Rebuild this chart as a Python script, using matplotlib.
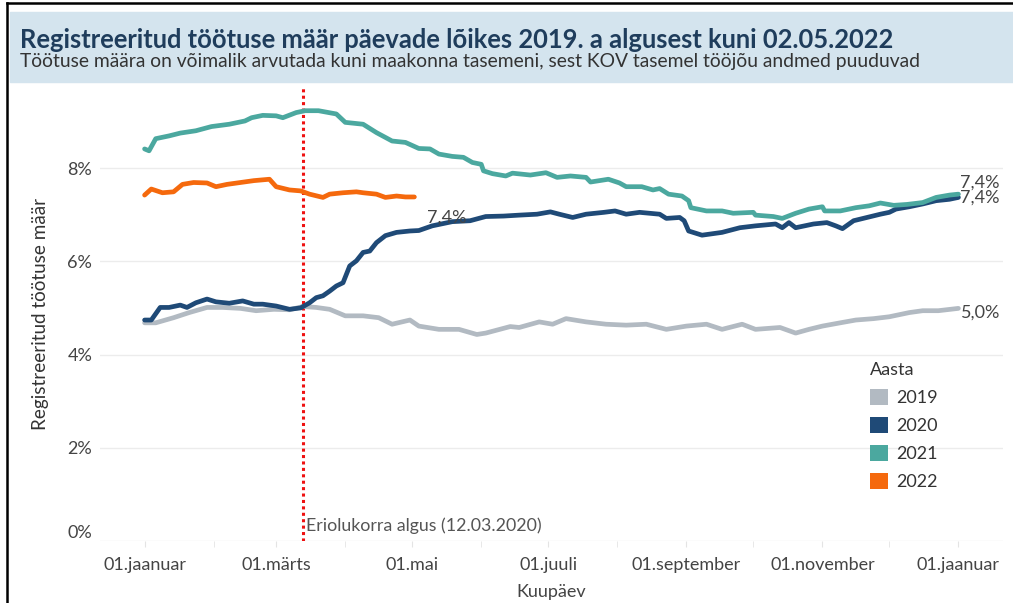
import matplotlib
matplotlib.use("Agg")
import matplotlib.pyplot as plt
from matplotlib.patches import Rectangle, Patch
from matplotlib.lines import Line2D

plt.rcParams['font.family'] = ['Lato', 'DejaVu Sans']

# päev aasta algusest (0 = 01.jaanuar) ja registreeritud töötuse määr, %
days_2019 = [0, 5, 13, 20, 28, 35, 43, 50, 58, 65, 71, 77, 83, 90, 98, 105, 111, 119, 123,
             132, 141, 149, 153, 164, 168, 177, 183, 189, 198, 207, 216, 225, 234, 243, 252,
             259, 268, 274, 285, 292, 298, 304, 312, 319, 327, 334, 343, 349, 356, 365]
rate_2019 = [4.68, 4.68, 4.79, 4.90, 5.01, 5.01, 4.99, 4.94, 4.97, 4.96, 5.03, 5.01, 4.97,
             4.83, 4.83, 4.79, 4.65, 4.74, 4.61, 4.54, 4.54, 4.43, 4.46, 4.60, 4.58, 4.70,
             4.65, 4.77, 4.70, 4.65, 4.63, 4.65, 4.54, 4.61, 4.65, 4.54, 4.65, 4.54, 4.58,
             4.46, 4.54, 4.61, 4.68, 4.74, 4.77, 4.81, 4.90, 4.94, 4.94, 4.99]

days_2020 = [0, 3, 7, 11, 16, 19, 23, 28, 32, 38, 44, 49, 53, 59, 65, 70, 74, 77, 80, 83,
             86, 89, 92, 95, 98, 101, 104, 108, 113, 119, 123, 129, 138, 146, 153, 161, 168,
             176, 182, 186, 192, 198, 206, 211, 216, 222, 231, 234, 240, 242, 244, 250, 259,
             267, 274, 283, 286, 289, 292, 300, 306, 310, 313, 318, 324, 330, 334, 337, 343,
             349, 355, 361, 365]
rate_2020 = [4.74, 4.74, 5.01, 5.01, 5.06, 5.01, 5.11, 5.19, 5.13, 5.10, 5.15, 5.08, 5.08,
             5.04, 4.97, 5.00, 5.11, 5.22, 5.26, 5.36, 5.47, 5.54, 5.90, 6.01, 6.19, 6.22,
             6.40, 6.55, 6.62, 6.65, 6.66, 6.76, 6.85, 6.87, 6.96, 6.97, 6.99, 7.01, 7.06,
             7.01, 6.94, 7.01, 7.05, 7.08, 7.01, 7.05, 7.01, 6.92, 6.94, 6.87, 6.65, 6.56,
             6.62, 6.72, 6.76, 6.80, 6.72, 6.83, 6.72, 6.80, 6.83, 6.76, 6.70, 6.87, 6.94,
             7.01, 7.05, 7.12, 7.17, 7.23, 7.30, 7.33, 7.37]

days_2021 = [0, 2, 5, 8, 11, 16, 23, 30, 38, 45, 48, 53, 59, 62, 68, 72, 78, 86, 90, 98,
             104, 111, 117, 123, 128, 132, 138, 143, 147, 151, 152, 156, 162, 165, 173, 180,
             185, 191, 198, 200, 208, 213, 216, 223, 228, 231, 235, 241, 244, 245, 252, 259,
             264, 273, 274, 282, 286, 292, 298, 304, 305, 312, 319, 325, 330, 336, 342, 349,
             355, 361, 365]
rate_2021 = [8.41, 8.37, 8.63, 8.66, 8.69, 8.75, 8.80, 8.89, 8.94, 9.01, 9.08, 9.13, 9.12,
             9.08, 9.19, 9.23, 9.23, 9.16, 8.98, 8.94, 8.76, 8.58, 8.55, 8.42, 8.41, 8.30,
             8.25, 8.23, 8.12, 8.08, 7.94, 7.88, 7.83, 7.89, 7.85, 7.90, 7.80, 7.83, 7.80,
             7.70, 7.76, 7.68, 7.60, 7.60, 7.53, 7.56, 7.44, 7.40, 7.30, 7.15, 7.08, 7.08,
             7.03, 7.05, 6.99, 6.96, 6.92, 7.03, 7.12, 7.17, 7.08, 7.08, 7.15, 7.19, 7.25,
             7.20, 7.22, 7.26, 7.37, 7.42, 7.44]

days_2022 = [0, 3, 8, 13, 17, 22, 28, 32, 37, 43, 49, 56, 59, 65, 70, 74, 80, 83, 89, 95,
             98, 104, 108, 113, 117, 121]
rate_2022 = [7.42, 7.55, 7.47, 7.49, 7.65, 7.69, 7.68, 7.60, 7.65, 7.69, 7.73, 7.76, 7.60,
             7.53, 7.51, 7.44, 7.37, 7.44, 7.47, 7.49, 7.47, 7.44, 7.37, 7.40, 7.38, 7.38]

years = ['2019', '2020', '2021', '2022']
colors = ['#b2bac2', '#1f4a77', '#4ba89f', '#f5690d']

tick_days = [0, 59, 120, 181, 243, 304, 365]
tick_labels = ['01.jaanuar', '01.märts', '01.mai', '01.juuli', '01.september',
               '01.november', '01.jaanuar']
month_days = [0, 31, 59, 90, 120, 151, 181, 212, 243, 273, 304, 334, 365]

emergency_day = 71   # 12.03.2020

fig = plt.figure(figsize=(10.13, 6.03), dpi=100)
W, H = 1013, 603

# päise taust ja raam
fig.patches.append(Rectangle((10 / W, 1 - 82 / H), 1 - 10 / W, 70 / H,
                             transform=fig.transFigure, color='#d4e4ee', zorder=0))
fig.lines.append(Line2D([7 / W, 7 / W], [0, 1 - 3 / H], transform=fig.transFigure,
                        color='black', lw=1.8))
fig.lines.append(Line2D([7 / W, 1], [1 - 3 / H, 1 - 3 / H], transform=fig.transFigure,
                        color='black', lw=1.8))

fig.text(20 / W, 1 - 48 / H, 'Registreeritud töötuse määr päevade lõikes 2019. a algusest kuni 02.05.2022',
         fontsize=18.4, fontweight='bold', color='#1f3d5c', va='baseline')
fig.text(20 / W, 1 - 67 / H, 'Töötuse määra on võimalik arvutada kuni maakonna tasemeni, sest KOV tasemel tööjõu andmed puuduvad',
         fontsize=13.85, color='#333333', va='baseline')

ax = fig.add_axes([100 / W, 1 - 541 / H, 903 / W, 455 / H])

series = [(days_2019, rate_2019), (days_2020, rate_2020),
          (days_2021, rate_2021), (days_2022, rate_2022)]
for (d, r), c in zip(series, colors):
    ax.plot(d, r, color=c, lw=3.4, solid_joinstyle='round', solid_capstyle='round', zorder=3)

def pct(v):
    return f'{v:.1f}%'.replace('.', ',')

# väärtused joone lõpus
label_offsets = [(1.5, -3), (1.5, 0), (1.5, 8), (9, -15)]
for (d, r), off in zip(series, label_offsets):
    ax.annotate(pct(r[-1]), xy=(d[-1], r[-1]), xytext=off, textcoords='offset points',
                fontsize=13, color='#444444', ha='left', va='center', zorder=4)

ax.axvline(emergency_day, color='#ee1111', lw=2.2, linestyle=(0, (1, 1.1)), zorder=2)
ax.text(emergency_day + 1.5, 0.33, 'Eriolukorra algus (12.03.2020)', fontsize=12.8,
        color='#555555', ha='left', va='center')

ax.set_xlim(-20, 385)
ax.set_ylim(0, 9.76)
ax.set_yticks([0, 2, 4, 6, 8])
ax.set_yticklabels(['0%', '2%', '4%', '6%', '8%'])
ax.get_yticklabels()[0].set_va('bottom')
ax.set_xticks(tick_days)
ax.set_xticklabels(tick_labels)
ax.set_xticks(month_days, minor=True)
ax.tick_params(axis='y', length=0, pad=5.5, labelsize=13, labelcolor='#444444')
ax.tick_params(axis='x', which='both', length=4, color='#e4e4e4', pad=7.5,
               labelsize=13, labelcolor='#444444')
ax.grid(axis='y', color='#ececec', lw=1)
ax.set_axisbelow(True)
for s in ax.spines.values():
    s.set_visible(False)

ax.set_ylabel('Registreeritud töötuse määr', fontsize=13.6, color='#333333', labelpad=13)
ax.set_xlabel('Kuupäev', fontsize=13, color='#444444', labelpad=8)

handles = [Patch(facecolor=c, edgecolor='none', label=y) for y, c in zip(years, colors)]
leg = ax.legend(handles=handles, title='Aasta', loc='upper left',
                bbox_to_anchor=(870 / W, 1 - 362 / H), bbox_transform=fig.transFigure,
                frameon=False, handlelength=1.0, handleheight=1.0, handletextpad=0.45,
                labelspacing=0.6, fontsize=13, title_fontsize=13, borderpad=0,
                borderaxespad=0, alignment='left')
for t in leg.get_texts():
    t.set_color('#333333')
leg.get_title().set_color('#333333')

fig.savefig('out.png', dpi=100)
